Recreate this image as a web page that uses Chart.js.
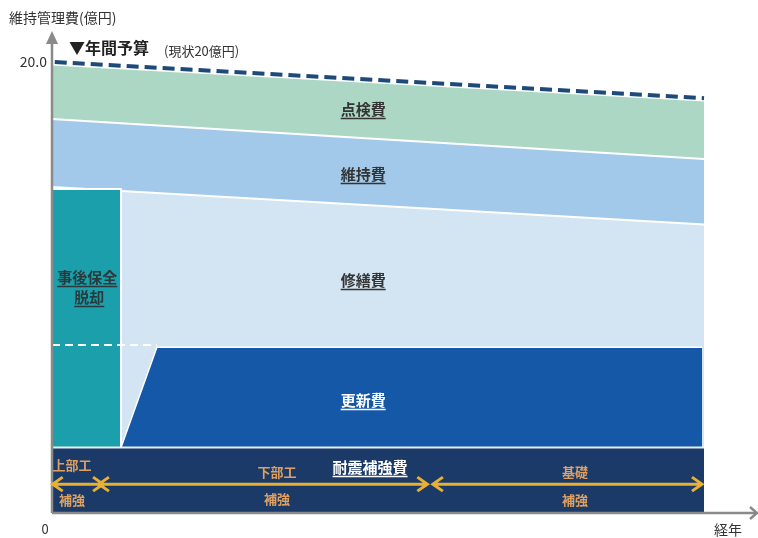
<!DOCTYPE html>
<html>
<head>
<meta charset="utf-8">
<script src="https://cdn.jsdelivr.net/npm/chart.js@4.4.1/dist/chart.umd.min.js"></script>
<style>
  html, body { margin: 0; padding: 0; background: #fff; }
  #wrap { position: relative; width: 758px; height: 538px; }
</style>
</head>
<body>
<div id="wrap"><canvas id="c" width="758" height="538"></canvas></div>
<script>
// ---- data (schematic values) ----
const yTicks = [20];
const xTicks = [0];
const budgetX = [0.4, 94.5];
const budgetY = [20.0, 18.4];
const inspectionX = [0, 94.5];
const inspectionY = [19.85, 18.25];
const maintenanceX = [0, 94.5];
const maintenanceY = [17.48, 15.7];
const repairX = [0, 94.5];
const repairY = [14.46, 12.8];
const renewalX = [10.0, 15.2, 94.2];
const renewalY = [2.9, 7.35, 7.35];
const correctiveX = [0, 10.0, 10.0];
const correctiveY = [14.37, 14.37, 2.9];
const seismicX = [0, 94.5];
const seismicY = [2.9, 2.9];
const thresholdX = [0, 15.2];
const thresholdY = [7.45, 7.45];

const pts = (xs, ys) => xs.map((x, i) => ({ x: x, y: ys[i] }));

const JP = '"Noto Sans CJK JP", "Noto Sans", sans-serif';

// region labels (anchors in data units)
const regionLabels = [
  { t: '点検費', x: 45.1, y: 17.92, c: '#333', u: true, s: 15 },
  { t: '維持費', x: 45.1, y: 15.04, c: '#333', u: true, s: 15 },
  { t: '修繕費', x: 45.1, y: 10.33, c: '#333', u: true, s: 15 },
  { t: '更新費', x: 45.1, y: 5.01, c: '#fff', u: true, s: 15 },
  { t: '事後保全', x: 5.1, y: 10.47, c: '#2a3a3c', u: true, s: 15 },
  { t: '脱却', x: 5.4, y: 9.58, c: '#2a3a3c', u: true, s: 15 },
  { t: '耐震補強費', x: 46.1, y: 2.04, c: '#fff', u: true, s: 15 },
  { t: '上部工', x: 2.9, y: 2.13, c: '#e0a060', u: false, s: 13 },
  { t: '補強', x: 2.9, y: 0.58, c: '#e0a060', u: false, s: 13 },
  { t: '下部工', x: 32.6, y: 1.82, c: '#e0a060', u: false, s: 13 },
  { t: '補強', x: 32.6, y: 0.62, c: '#e0a060', u: false, s: 13 },
  { t: '基礎', x: 75.8, y: 1.82, c: '#e0a060', u: false, s: 13 },
  { t: '補強', x: 75.8, y: 0.58, c: '#e0a060', u: false, s: 13 }
];
// seismic arrows [from, to] in data units, at y value
const arrowY = 1.28;
const arrowSpans = [[0.1, 7.4], [6.8, 54.4], [55.2, 94.2]];

const overlay = {
  id: 'overlay',
  afterDraw(chart) {
    const ctx = chart.ctx;
    const xs = chart.scales.x, ys = chart.scales.y;
    const ca = chart.chartArea;
    ctx.save();
    // axes with arrows
    ctx.strokeStyle = '#8a8a8a';
    ctx.fillStyle = '#8a8a8a';
    ctx.lineWidth = 2.5;
    ctx.beginPath();
    ctx.moveTo(ca.left, ca.bottom);
    ctx.lineTo(ca.left, 40);
    ctx.stroke();
    ctx.beginPath();
    ctx.moveTo(ca.left - 6, 44);
    ctx.lineTo(ca.left, 31);
    ctx.lineTo(ca.left + 6, 44);
    ctx.closePath();
    ctx.fill();
    ctx.lineWidth = 2.5;
    ctx.beginPath();
    ctx.moveTo(ca.left, ca.bottom);
    ctx.lineTo(756, ca.bottom);
    ctx.stroke();
    ctx.beginPath();
    ctx.moveTo(750, ca.bottom - 6);
    ctx.lineTo(757, ca.bottom);
    ctx.lineTo(750, ca.bottom + 6);
    ctx.stroke();

    // arrows in seismic band
    ctx.strokeStyle = '#e8b132';
    ctx.lineWidth = 3;
    const ay = ys.getPixelForValue(arrowY);
    arrowSpans.forEach(([a, b]) => {
      const x1 = xs.getPixelForValue(a), x2 = xs.getPixelForValue(b);
      ctx.beginPath();
      ctx.moveTo(x1, ay); ctx.lineTo(x2, ay);
      ctx.moveTo(x1 + 10, ay - 7); ctx.lineTo(x1, ay); ctx.lineTo(x1 + 10, ay + 7);
      ctx.moveTo(x2 - 10, ay - 7); ctx.lineTo(x2, ay); ctx.lineTo(x2 - 10, ay + 7);
      ctx.stroke();
    });

    // region labels
    ctx.textAlign = 'center';
    ctx.textBaseline = 'middle';
    regionLabels.forEach(l => {
      const px = xs.getPixelForValue(l.x), py = ys.getPixelForValue(l.y);
      ctx.font = 'bold ' + l.s + 'px ' + JP;
      ctx.fillStyle = l.c;
      ctx.fillText(l.t, px, py);
      if (l.u) {
        const w = ctx.measureText(l.t).width;
        ctx.strokeStyle = l.c;
        ctx.lineWidth = 1.5;
        ctx.beginPath();
        ctx.moveTo(px - w / 2, py + l.s / 2 + 2);
        ctx.lineTo(px + w / 2, py + l.s / 2 + 2);
        ctx.stroke();
      }
    });

    // top texts
    ctx.textAlign = 'left';
    ctx.fillStyle = '#333';
    ctx.font = '14px ' + JP;
    ctx.fillText('維持管理費(億円)', 9, 18);
    ctx.fillStyle = '#222';
    ctx.font = 'bold 16px ' + JP;
    ctx.fillText('▼年間予算', 69, 48);
    ctx.font = '13px ' + JP;
    ctx.fillStyle = '#333';
    ctx.fillText('(現状20億円)', 164, 51);
    ctx.restore();
  }
};

const common = { pointRadius: 0, pointHoverRadius: 0, tension: 0, borderJoinStyle: 'miter' };

new Chart(document.getElementById('c'), {
  type: 'line',
  data: {
    datasets: [
      Object.assign({ label: '点検費', data: pts(inspectionX, inspectionY), backgroundColor: '#acd7c4', borderColor: 'rgba(0,0,0,0)', borderWidth: 0, fill: 'origin', order: 8 }, common),
      Object.assign({ label: '維持費', data: pts(maintenanceX, maintenanceY), backgroundColor: '#a2c9ea', borderColor: '#ffffff', borderWidth: 2, fill: 'origin', order: 7 }, common),
      Object.assign({ label: '修繕費', data: pts(repairX, repairY), backgroundColor: '#d3e4f2', borderColor: '#ffffff', borderWidth: 2, fill: 'origin', order: 6 }, common),
      Object.assign({ label: '更新費', data: pts(renewalX, renewalY), backgroundColor: '#1658a8', borderColor: '#ffffff', borderWidth: 1.5, fill: 'origin', order: 5 }, common),
      Object.assign({ label: '事後保全', data: pts(correctiveX, correctiveY), backgroundColor: '#1b9fab', borderColor: '#ffffff', borderWidth: 2, fill: 'origin', order: 4 }, common),
      Object.assign({ label: '耐震補強費', data: pts(seismicX, seismicY), backgroundColor: '#1b3a68', borderColor: '#e8eef5', borderWidth: 2, fill: 'origin', order: 3 }, common),
      Object.assign({ label: '閾値', data: pts(thresholdX, thresholdY), borderColor: '#ffffff', borderWidth: 2, borderDash: [8, 5], fill: false, order: 2 }, common),
      Object.assign({ label: '年間予算', data: pts(budgetX, budgetY), borderColor: '#1d4a78', borderWidth: 4, borderDash: [12, 6], fill: false, order: 1 }, common)
    ]
  },
  options: {
    responsive: false,
    animation: false,
    events: [],
    layout: { padding: { top: 17, right: 16, left: 0, bottom: 0 } },
    plugins: { legend: { display: false }, tooltip: { enabled: false } },
    scales: {
      x: {
        type: 'linear', min: 0, max: 100,
        grid: { display: false, drawTicks: false },
        border: { display: false },
        afterBuildTicks: s => { s.ticks = xTicks.map(v => ({ value: v })); },
        afterFit: s => { s.height = 25; },
        ticks: { padding: 8, labelOffset: -7, color: '#333', font: { family: JP, size: 13 }, callback: v => String(v), maxRotation: 0 },
        title: { display: true, text: '経年', align: 'end', color: '#333', font: { family: JP, size: 14 }, padding: { top: 0, bottom: 0 } }
      },
      y: {
        type: 'linear', min: 0, max: 22,
        grid: { display: false, drawTicks: false },
        border: { display: false },
        afterBuildTicks: s => { s.ticks = yTicks.map(v => ({ value: v })); },
        afterFit: s => { s.width = 52; },
        ticks: { padding: 5, color: '#333', font: { family: JP, size: 14 }, callback: v => Number(v).toFixed(1) }
      }
    }
  },
  plugins: [overlay]
});
</script>
</body>
</html>
